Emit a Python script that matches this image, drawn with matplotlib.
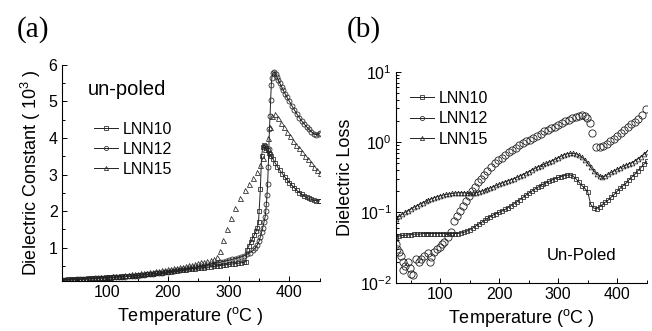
import numpy as np
import matplotlib
matplotlib.use('Agg')
import matplotlib.pyplot as plt
from matplotlib.lines import Line2D
from matplotlib.ticker import MultipleLocator, LogLocator, NullFormatter

plt.rcParams['font.family'] = ['Liberation Sans', 'DejaVu Sans']
plt.rcParams['mathtext.fontset'] = 'custom'
plt.rcParams['mathtext.rm'] = 'Liberation Sans'
plt.rcParams['mathtext.it'] = 'Liberation Sans:italic'

# ---------------- (a) dielectric constant (x10^3), un-poled ----------------
t_low = list(range(25, 330, 5))
t10a = t_low + [328, 330, 333, 336, 339, 342, 345, 347, 349, 350, 352, 354, 356, 358, 360, 362, 364, 366,
                368, 370, 373, 376, 380, 384, 388, 392, 396, 400, 404, 408, 412, 416, 420, 424, 428, 432,
                436, 440, 444, 448, 450]
eps10a = [0.13, 0.13, 0.135, 0.14, 0.14, 0.145, 0.15, 0.15, 0.155, 0.16, 0.165, 0.17, 0.175, 0.18, 0.185,
          0.19, 0.195, 0.2, 0.205, 0.21, 0.215, 0.22, 0.23, 0.235, 0.24, 0.25, 0.26, 0.265, 0.275, 0.285,
          0.29, 0.3, 0.31, 0.32, 0.33, 0.34, 0.35, 0.36, 0.37, 0.38, 0.39, 0.4, 0.41, 0.42, 0.43, 0.44,
          0.45, 0.46, 0.47, 0.48, 0.49, 0.5, 0.51, 0.525, 0.535, 0.545, 0.555, 0.565, 0.575, 0.59, 0.6,
          0.62, 0.95, 1.05, 1.15, 1.25, 1.35, 1.45, 1.55, 1.7, 2.0, 2.6, 3.5, 3.75, 3.82, 3.78, 3.72, 3.66,
          3.6, 3.55, 3.5, 3.42, 3.33, 3.22, 3.12, 3.03, 2.94, 2.86, 2.78, 2.71, 2.64, 2.57, 2.51, 2.46,
          2.42, 2.38, 2.35, 2.32, 2.3, 2.29, 2.28, 2.28]

t12a = list(range(25, 345, 5)) + [344, 347, 350, 352, 354, 356, 358, 360, 361, 362, 363, 364, 365, 366,
                                  367, 368, 369, 370, 371, 373, 375, 377, 379, 381, 384, 387, 390, 393,
                                  396, 400, 404, 408, 412, 416, 420, 424, 428, 432, 436, 440, 444, 448, 450]
eps12a = [0.12, 0.12, 0.125, 0.13, 0.13, 0.135, 0.14, 0.14, 0.145, 0.15, 0.155, 0.16, 0.165, 0.17, 0.175,
          0.18, 0.185, 0.19, 0.195, 0.2, 0.205, 0.21, 0.22, 0.225, 0.23, 0.24, 0.25, 0.26, 0.27, 0.28,
          0.29, 0.3, 0.31, 0.32, 0.335, 0.345, 0.36, 0.37, 0.385, 0.4, 0.41, 0.425, 0.44, 0.455, 0.47,
          0.485, 0.5, 0.515, 0.53, 0.55, 0.565, 0.58, 0.6, 0.62, 0.64, 0.66, 0.68, 0.7, 0.72, 0.75, 0.78,
          0.82, 0.87, 0.93,
          1.0, 1.08, 1.18, 1.3, 1.42, 1.55, 1.7, 1.85, 2.0, 2.2, 2.45, 2.75, 3.2, 3.7, 4.25, 4.6, 5.05,
          5.45, 5.65, 5.78, 5.8, 5.75, 5.68, 5.6, 5.5, 5.4, 5.3, 5.2, 5.11, 5.0, 4.88, 4.77, 4.66, 4.56,
          4.47, 4.39, 4.31, 4.24, 4.17, 4.12, 4.09, 4.1, 4.13]

t15a = list(range(25, 285, 5)) + [285, 290, 297, 304, 311, 318, 326, 333, 340, 347, 352, 356, 360, 364, 368,
                                  372, 376, 381, 386, 391, 396, 401, 406, 411, 416, 421, 426, 431, 436,
                                  441, 446, 450]
eps15a = [0.12, 0.125, 0.13, 0.135, 0.14, 0.145, 0.15, 0.155, 0.16, 0.165, 0.17, 0.18, 0.185, 0.19, 0.2,
          0.205, 0.21, 0.22, 0.225, 0.235, 0.24, 0.25, 0.26, 0.27, 0.28, 0.29, 0.3, 0.31, 0.32, 0.33,
          0.34, 0.355, 0.37, 0.38, 0.395, 0.41, 0.425, 0.44, 0.455, 0.47, 0.485, 0.5, 0.52, 0.54, 0.56,
          0.58, 0.6, 0.62, 0.645, 0.67, 0.7, 0.76,
          0.9, 1.2, 1.5, 1.82, 2.1, 2.36, 2.58, 2.74, 2.9, 3.06, 3.25, 3.45, 3.7, 4.0, 4.3, 4.6, 4.66,
          4.55, 4.42, 4.3, 4.17, 4.05, 3.93, 3.82, 3.72, 3.62, 3.52, 3.42, 3.32, 3.22, 3.12, 3.05]

# ---------------- (b) dielectric loss, un-poled ----------------
t10b = list(range(25, 455, 5))
loss10b = [0.045, 0.046, 0.047, 0.047, 0.048, 0.048, 0.049, 0.049, 0.049, 0.05, 0.05, 0.05, 0.05, 0.05,
           0.05, 0.05, 0.05, 0.05, 0.05, 0.05, 0.05, 0.05, 0.051, 0.052, 0.054, 0.057, 0.06, 0.064,
           0.068, 0.072, 0.077, 0.082, 0.087, 0.092, 0.096, 0.1, 0.105, 0.11, 0.117, 0.125, 0.133,
           0.142, 0.152, 0.163, 0.175, 0.188, 0.2, 0.213, 0.226, 0.24, 0.253, 0.265, 0.277, 0.29,
           0.302, 0.313, 0.323, 0.332, 0.338, 0.34, 0.33, 0.3, 0.27, 0.24, 0.22, 0.195, 0.13, 0.115,
           0.113, 0.12, 0.13, 0.14, 0.15, 0.165, 0.18, 0.2, 0.22, 0.24, 0.26, 0.29, 0.32, 0.35, 0.39,
           0.43, 0.48, 0.53]

t12b = [25, 27, 30, 33, 36, 37, 40, 45, 48, 51, 54, 59, 64, 68, 73, 79, 82, 85, 90, 95, 99, 103, 107,
        113, 119, 124, 129, 134, 139, 144, 149, 154, 159, 164, 169, 174, 180, 186, 192, 198, 204, 210,
        216, 222, 228, 234, 240, 246, 252, 258, 264, 270, 276, 282, 288, 294, 300, 306, 312, 318, 324,
        330, 336, 341, 345, 349, 353, 358, 364, 370, 376, 382, 388, 394, 400, 406, 412, 418, 424, 430,
        436, 442, 448]
loss12b = [0.036, 0.03, 0.027, 0.024, 0.02, 0.015, 0.017, 0.02, 0.016, 0.0135, 0.0128, 0.022, 0.02,
           0.022, 0.024, 0.026, 0.02, 0.023, 0.027, 0.03, 0.032, 0.035, 0.038, 0.044, 0.052,
           0.075, 0.09, 0.105, 0.125, 0.145, 0.17, 0.2, 0.23, 0.27, 0.3, 0.34, 0.39, 0.44, 0.5, 0.55,
           0.6, 0.66, 0.71, 0.77, 0.83, 0.9, 0.96, 1.02, 1.08, 1.14, 1.23, 1.32, 1.42, 1.5, 1.56, 1.65,
           1.75, 1.85, 1.97, 2.08, 2.18, 2.26, 2.33, 2.4, 2.38, 2.2, 1.85, 1.35, 0.85, 0.84, 0.88, 0.95,
           1.02, 1.1, 1.22, 1.33, 1.47, 1.62, 1.78, 1.95, 2.15, 2.4, 2.9]

t15b = list(range(25, 455, 5))
loss15b = [0.08, 0.088, 0.094, 0.1, 0.106, 0.112, 0.118, 0.124, 0.13, 0.137, 0.143, 0.15, 0.156, 0.162,
           0.167, 0.172, 0.176, 0.18, 0.183, 0.186, 0.188, 0.19, 0.19, 0.19, 0.189, 0.188, 0.188, 0.19,
           0.195, 0.2, 0.207, 0.215, 0.223, 0.232, 0.242, 0.252, 0.262, 0.272, 0.282, 0.292, 0.302,
           0.315, 0.33, 0.345, 0.36, 0.38, 0.4, 0.42, 0.44, 0.46, 0.48, 0.5, 0.52, 0.545, 0.57, 0.6,
           0.63, 0.66, 0.68, 0.69, 0.69, 0.68, 0.65, 0.61, 0.56, 0.5, 0.44, 0.39, 0.35, 0.33, 0.32,
           0.33, 0.35, 0.37, 0.39, 0.41, 0.43, 0.45, 0.47, 0.49, 0.51, 0.54, 0.58, 0.62, 0.67, 0.73]

labels = ['LNN10', 'LNN12', 'LNN15']
markers = ['s', 'o', '^']

fig = plt.figure(figsize=(6.52, 3.31), dpi=100)
ax1 = fig.add_axes([0.0946, 0.152, 0.396, 0.652])
ax2 = fig.add_axes([0.6074, 0.146, 0.3845, 0.6375])

mk = dict(mfc='none', mec='#222222', mew=0.55, color='#222222', lw=0.7)
ax1.plot(t10a, eps10a, marker='s', ms=3.0, **mk)
ax1.plot(t12a, eps12a, marker='o', ms=3.6, **mk)
ax1.plot(t15a, eps15a, marker='^', ms=3.6, ls='none', mfc='none', mec='#222222', mew=0.55)

ax2.plot(t10b, loss10b, marker='s', ms=3.0, **mk)
ax2.plot(t12b, loss12b, marker='o', ms=5.2, ls='none', mfc='none', mec='#222222', mew=0.6)
ax2.plot(t15b, loss15b, marker='^', ms=3.4, **mk)

for ax in (ax1, ax2):
    ax.spines['top'].set_visible(False)
    ax.spines['right'].set_visible(False)
    ax.spines['left'].set_linewidth(0.8)
    ax.spines['bottom'].set_linewidth(0.8)
    ax.set_xlim(25, 450)
    ax.set_xticks([100, 200, 300, 400])
    ax.xaxis.set_minor_locator(MultipleLocator(50))
    ax.tick_params(which='both', direction='in', labelsize=11.5, width=0.7, pad=3)
    ax.tick_params(which='major', length=3.5)
    ax.tick_params(which='minor', length=2)
    ax.set_xlabel('Temperature ($^{\\mathrm{o}}$C )', fontsize=13, labelpad=4)

ax1.set_ylim(0.1, 6)
ax1.set_yticks([1, 2, 3, 4, 5, 6])
ax1.yaxis.set_minor_locator(MultipleLocator(0.5))
ax1.set_ylabel('Dielectric Constant ( 10$^{\\mathrm{3}}$ )', fontsize=13, labelpad=4)
ax1.text(0.253, 0.884, 'un-poled', transform=ax1.transAxes, fontsize=14.5, ha='center', va='center')

ax2.set_yscale('log')
ax2.set_ylim(1e-2, 1e1)
ax2.yaxis.set_major_locator(LogLocator(base=10, numticks=10))
ax2.yaxis.set_minor_locator(LogLocator(base=10, subs=np.arange(2, 10), numticks=10))
ax2.yaxis.set_minor_formatter(NullFormatter())
ax2.set_ylabel('Dielectric Loss', fontsize=13, labelpad=4)
ax2.text(0.742, 0.131, 'Un-Poled', transform=ax2.transAxes, fontsize=12, ha='center', va='center')

handles = [Line2D([], [], color='#222222', lw=0.7, marker=m, ms=3, mfc='none', mec='#222222', mew=0.55)
           for m in markers]
ax1.legend(handles, labels, loc='upper left', bbox_to_anchor=(0.1, 0.765), frameon=False, fontsize=11.5,
           handlelength=1.5, handletextpad=0.3, labelspacing=0.3, borderaxespad=0)
ax2.legend(handles, labels, loc='upper left', bbox_to_anchor=(0.03, 0.94), frameon=False, fontsize=11.5,
           handlelength=1.5, handletextpad=0.3, labelspacing=0.35, borderaxespad=0)

fig.text(0.026, 0.912, '(a)', family='Liberation Serif', fontsize=21, ha='left', va='center')
fig.text(0.532, 0.912, '(b)', family='Liberation Serif', fontsize=21, ha='left', va='center')

fig.savefig('out.png', dpi=100)
